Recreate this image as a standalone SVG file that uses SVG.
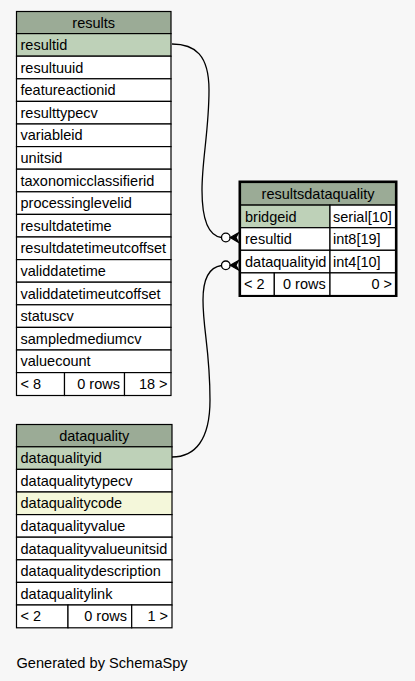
<svg xmlns="http://www.w3.org/2000/svg" width="415" height="681" viewBox="0 0 415 681">
<style>
text{font-family:"Liberation Sans",Arial,sans-serif;font-size:14.5px;fill:#000}
.h{fill:#9bab96}
.pk{fill:#bed1b8}
.ix{fill:#f4f7da}
.w{fill:#ffffff}
rect.c{stroke:#000;stroke-width:1.2}
.c{stroke:#000;stroke-width:1.2}
.mid{text-anchor:middle}
.end{text-anchor:end}
.edge{fill:none;stroke:#000;stroke-width:1.3}
</style>
<rect x="0" y="0" width="415" height="681" fill="#f7f7f7"/>
<g id="results">
<rect class="c h" x="16.5" y="11.5" width="154.5" height="22.1"/>
<text class="mid" x="93.7" y="27.5">results</text>
<rect class="c pk" x="16.5" y="33.6" width="154.5" height="22.6"/>
<text x="20.5" y="50">resultid</text>
<rect class="c w" x="16.5" y="56.2" width="154.5" height="22.6"/>
<text x="20.5" y="72.6">resultuuid</text>
<rect class="c w" x="16.5" y="78.8" width="154.5" height="22.6"/>
<text x="20.5" y="95.2">featureactionid</text>
<rect class="c w" x="16.5" y="101.4" width="154.5" height="22.6"/>
<text x="20.5" y="117.8">resulttypecv</text>
<rect class="c w" x="16.5" y="124" width="154.5" height="22.6"/>
<text x="20.5" y="140.4">variableid</text>
<rect class="c w" x="16.5" y="146.6" width="154.5" height="22.6"/>
<text x="20.5" y="163">unitsid</text>
<rect class="c w" x="16.5" y="169.2" width="154.5" height="22.6"/>
<text x="20.5" y="185.6">taxonomicclassifierid</text>
<rect class="c w" x="16.5" y="191.8" width="154.5" height="22.6"/>
<text x="20.5" y="208.2">processinglevelid</text>
<rect class="c w" x="16.5" y="214.4" width="154.5" height="22.6"/>
<text x="20.5" y="230.8">resultdatetime</text>
<rect class="c w" x="16.5" y="237" width="154.5" height="22.6"/>
<text x="20.5" y="253.4">resultdatetimeutcoffset</text>
<rect class="c w" x="16.5" y="259.6" width="154.5" height="22.6"/>
<text x="20.5" y="276">validdatetime</text>
<rect class="c w" x="16.5" y="282.2" width="154.5" height="22.6"/>
<text x="20.5" y="298.6">validdatetimeutcoffset</text>
<rect class="c w" x="16.5" y="304.8" width="154.5" height="22.6"/>
<text x="20.5" y="321.2">statuscv</text>
<rect class="c w" x="16.5" y="327.4" width="154.5" height="22.6"/>
<text x="20.5" y="343.8">sampledmediumcv</text>
<rect class="c w" x="16.5" y="350" width="154.5" height="22.6"/>
<text x="20.5" y="366.4">valuecount</text>
<rect class="c w" x="16.5" y="372.6" width="48" height="22.9"/>
<rect class="c w" x="64.5" y="372.6" width="60" height="22.9"/>
<rect class="c w" x="124.5" y="372.6" width="46.5" height="22.9"/>
<text x="20.5" y="389">&lt; 8</text>
<text class="end" x="120" y="389">0 rows</text>
<text class="end" x="167.5" y="389">18 &gt;</text>
</g>
<g id="resultsdataquality">
<rect x="238.5" y="180.5" width="159" height="116.5" fill="#000"/>
<rect class="c h" x="240.5" y="182.5" width="155" height="22.6"/>
<text class="mid" x="318" y="199">resultsdataquality</text>
<rect class="c pk" x="240.5" y="205.1" width="89.5" height="22.6"/>
<rect class="c w" x="330" y="205.1" width="65.5" height="22.6"/>
<text x="245" y="221.5">bridgeid</text>
<text x="333" y="221.5">serial[10]</text>
<rect class="c w" x="240.5" y="227.7" width="89.5" height="22.6"/>
<rect class="c w" x="330" y="227.7" width="65.5" height="22.6"/>
<text x="245" y="244.1">resultid</text>
<text x="333" y="244.1">int8[19]</text>
<rect class="c w" x="240.5" y="250.3" width="89.5" height="22.6"/>
<rect class="c w" x="330" y="250.3" width="65.5" height="22.6"/>
<text x="245" y="266.7">dataqualityid</text>
<text x="333" y="266.7">int4[10]</text>
<rect class="c w" x="240.5" y="272.9" width="33.8" height="22.6"/>
<rect class="c w" x="274.3" y="272.9" width="55.7" height="22.6"/>
<rect class="c w" x="330" y="272.9" width="65.5" height="22.6"/>
<text x="244" y="289.3">&lt; 2</text>
<text class="end" x="325.7" y="289.3">0 rows</text>
<text class="end" x="392" y="289.3">0 &gt;</text>
</g>
<g id="dataquality">
<rect class="c h" x="16.5" y="424.5" width="155.5" height="22.3"/>
<text class="mid" x="94.2" y="440.8">dataquality</text>
<rect class="c pk" x="16.5" y="446.8" width="155.5" height="22.6"/>
<text x="20.5" y="463.2">dataqualityid</text>
<rect class="c w" x="16.5" y="469.4" width="155.5" height="22.6"/>
<text x="20.5" y="485.8">dataqualitytypecv</text>
<rect class="c ix" x="16.5" y="492" width="155.5" height="22.6"/>
<text x="20.5" y="508.4">dataqualitycode</text>
<rect class="c w" x="16.5" y="514.6" width="155.5" height="22.6"/>
<text x="20.5" y="531">dataqualityvalue</text>
<rect class="c w" x="16.5" y="537.2" width="155.5" height="22.6"/>
<text x="20.5" y="553.6">dataqualityvalueunitsid</text>
<rect class="c w" x="16.5" y="559.8" width="155.5" height="22.6"/>
<text x="20.5" y="576.2">dataqualitydescription</text>
<rect class="c w" x="16.5" y="582.4" width="155.5" height="22.6"/>
<text x="20.5" y="598.8">dataqualitylink</text>
<rect class="c w" x="16.5" y="605" width="51.5" height="22.8"/>
<rect class="c w" x="68" y="605" width="63.7" height="22.8"/>
<rect class="c w" x="131.7" y="605" width="40.3" height="22.8"/>
<text x="20.5" y="621.4">&lt; 2</text>
<text class="end" x="127" y="621.4">0 rows</text>
<text class="end" x="168" y="621.4">1 &gt;</text>
</g>
<g id="connectors">
<path class="edge" d="M172,44 C195,44 209,55 209,90 C209,130 202,160 202,190 C202,222 210,236 221.5,237.5"/>
<circle cx="225.8" cy="237.5" r="4.3" fill="#fff" stroke="#000" stroke-width="1.3"/>
<polygon points="230.2,237.5 238.5,232.8 236,237.5 238.5,242.5" fill="#000" stroke="#000" stroke-width="1.2"/>
<path class="edge" d="M172,457 C195,457 210,440 210,400 C210,350 203,330 203,300 C203,276 211,267 221.5,265.5"/>
<circle cx="225.8" cy="265.3" r="4.3" fill="#fff" stroke="#000" stroke-width="1.3"/>
<polygon points="230.2,265.3 238.5,260.6 236,265.3 238.5,270" fill="#000" stroke="#000" stroke-width="1.2"/>
</g>
<text x="16.5" y="667.5" style="font-size:14.6px">Generated by SchemaSpy</text>
</svg>
